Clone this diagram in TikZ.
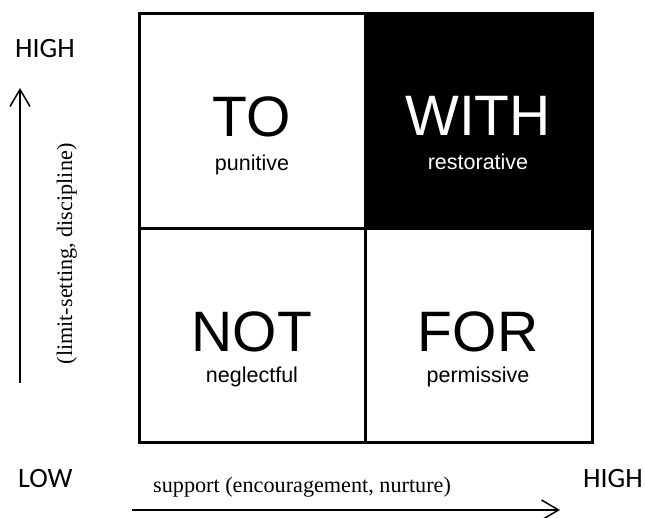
\documentclass[tikz,border=0pt]{standalone}
\usepackage{fontspec}
\setmainfont{Liberation Serif}
\newfontfamily\arialf{Liberation Sans}
\newfontfamily\calib{Carlito}
\usetikzlibrary{arrows.meta}
\tikzset{
  big/.style={font=\arialf\fontsize{57}{57}\selectfont, anchor=base, inner sep=0pt},
  small/.style={font=\arialf\fontsize{21.5}{22}\selectfont, anchor=base, inner sep=0pt},
  level/.style={font=\calib\fontsize{28}{28}\selectfont, anchor=base west, inner sep=0pt},
  axislabel/.style={font=\fontsize{22.2}{22}\selectfont, inner sep=0pt},
  axisarrow/.style={line width=1.5pt, -{Straight Barb[length=17pt,width=20pt,line width=1.5pt]}},
  grid/.style={line width=3pt}
}
\begin{document}
\begin{tikzpicture}[x=1pt,y=-1pt]
\useasboundingbox (0,0) rectangle (645,517);
% filled cell
\fill[black] (365,13) rectangle (592,228);
% grid
\draw[grid] (139,13) rectangle (592,442);
\draw[grid] (365,13) -- (365,442);
\draw[grid] (139,228) -- (592,228);
% cell texts
\node[big] (to) at (252,136) {TO};
\node[small] (pun) at (252,170) {punitive};
\node[big,text=white] (with) at (478,135) {WITH};
\node[small,text=white] (res) at (478,169) {restorative};
\node[big] (not) at (252,351) {NOT};
\node[small] (neg) at (252,382) {neglectful};
\node[big] (for) at (478,351) {FOR};
\node[small] (perm) at (478,382) {permissive};
% level labels
\node[level] (hightop) at (15,57) {HIGH};
\node[level] (low) at (18,487) {LOW};
\node[level] (highright) at (583,487) {HIGH};
% axes
\coordinate (vstart) at (20,383);
\coordinate (vend) at (20,88);
\draw[axisarrow] (vstart) -- (vend);
\coordinate (hstart) at (132,510);
\coordinate (hend) at (560,510);
\draw[axisarrow] (hstart) -- (hend);
\node[axislabel, rotate=90, anchor=base] (vlabel) at (72,254) {(limit-setting, discipline)};
\node[axislabel, anchor=base west] (hlabel) at (153,492) {support (encouragement, nurture)};
\end{tikzpicture}
\end{document}
